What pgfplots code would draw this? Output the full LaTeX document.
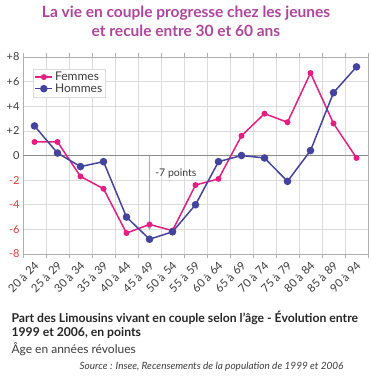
\documentclass[border=0pt]{standalone}
\usepackage{fontspec}
\setmainfont{Lato}
\usepackage{pgfplots}
\pgfplotsset{compat=1.18}
\usetikzlibrary{arrows.meta}
\definecolor{titlecol}{RGB}{176,68,156}
\definecolor{fem}{RGB}{230,30,130}
\definecolor{hom}{RGB}{68,68,158}
\definecolor{negred}{RGB}{232,60,50}
\definecolor{txt}{RGB}{60,60,60}
\definecolor{gridc}{RGB}{220,220,220}
\definecolor{axc}{RGB}{175,175,175}
\begin{document}
\begin{tikzpicture}[x=1pt,y=1pt]
\useasboundingbox (0pt,0pt) rectangle (370pt,-378pt);
\node[font=\fontsize{15.5}{19}\selectfont\bfseries, text=titlecol, align=center] at (186pt,-21.5pt) {La vie en couple progresse chez les jeunes\\et recule entre 30 et 60 ans};
\begin{axis}[
  at={(23pt,-254pt)}, anchor=south west,
  scale only axis, width=345pt, height=197pt,
  xmin=-0.5, xmax=14.5, ymin=-8, ymax=8,
  xtick={0,...,14},
  xticklabels={20 à 24,25 à 29,30 à 34,35 à 39,40 à 44,45 à 49,50 à 54,55 à 59,60 à 64,65 à 69,70 à 74,75 à 79,80 à 84,85 à 89,90 à 94},
  minor xtick={-0.5,0.5,...,14.5},
  ytick={-8,-6,...,8},
  yticklabels={{\color{negred}-8},{\color{negred}-6},{\color{negred}-4},{\color{negred}-2},0,+2,+4,+6,+8},
  ymajorgrids, xminorgrids,
  grid style={gridc, line width=0.6pt},
  minor grid style={gridc, line width=0.6pt},
  major tick length=0pt, minor tick length=4pt, tick align=outside,
  minor tick style={axc},
  axis line style={axc, line width=0.8pt},
  x tick label style={yshift=-9pt, xshift=3pt, rotate=45, anchor=east, font=\fontsize{11.3}{12}\selectfont, text=txt, inner sep=1pt},
  y tick label style={font=\fontsize{11}{12}\selectfont, text=txt},
  legend style={at={(0.03,0.94)}, anchor=north west, draw=gridc, font=\fontsize{12}{13}\selectfont, text=txt, inner sep=1pt, row sep=-2.5pt, cells={anchor=west}},
  legend cell align=left,
  clip=false,
]
\draw[color=axc!80!black, line width=0.8pt] (axis cs:-0.5,0) -- (axis cs:14.5,0);
\draw[color=axc, line width=1.1pt, -{Stealth[length=6pt,width=5pt]}] (axis cs:5,0) -- (axis cs:5,-6.1);
\node[anchor=west, font=\fontsize{10.5}{12}\selectfont, text=txt] at (axis cs:5.1,-1.45) {-7 points};
\addplot[fem, line width=1.5pt, mark=*, mark size=2.2pt] coordinates {
(0,1.1) (1,1.1) (2,-1.7) (3,-2.7) (4,-6.3) (5,-5.6) (6,-6.1) (7,-2.4) (8,-1.9) (9,1.6) (10,3.4) (11,2.7) (12,6.7) (13,2.6) (14,-0.2)};
\addlegendentry{Femmes}
\addplot[hom, line width=1.5pt, mark=*, mark size=3pt] coordinates {
(0,2.4) (1,0.2) (2,-0.9) (3,-0.5) (4,-5.0) (5,-6.8) (6,-6.2) (7,-4.0) (8,-0.5) (9,0.0) (10,-0.2) (11,-2.1) (12,0.4) (13,5.1) (14,7.2)};
\addlegendentry{Hommes}
\end{axis}
\node[anchor=west, font=\fontsize{12.2}{15}\selectfont\bfseries, text=black!85] at (8pt,-318pt) {Part des Limousins vivant en couple selon l'âge - Évolution entre};
\node[anchor=west, font=\fontsize{12.2}{15}\selectfont\bfseries, text=black!85] at (8pt,-333pt) {1999 et 2006, en points};
\node[anchor=west, font=\fontsize{12}{14}\selectfont, text=txt] at (8pt,-349pt) {Âge en années révolues};
\node[anchor=east, font=\fontsize{10}{11}\selectfont\itshape, text=txt] at (347pt,-367pt) {Source : Insee, Recensements de la population de 1999 et 2006};
\end{tikzpicture}
\end{document}
